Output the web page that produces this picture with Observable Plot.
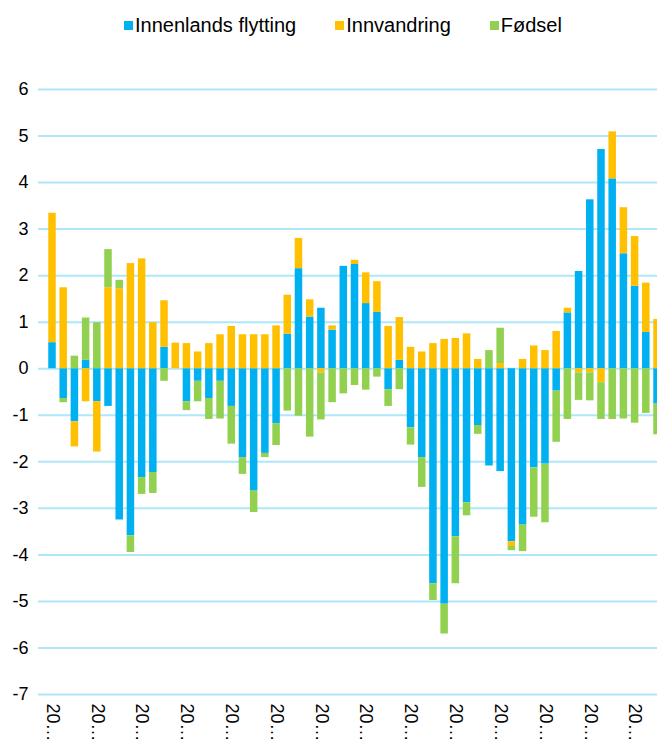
<!DOCTYPE html>
<html>
<head>
<meta charset="utf-8">
<script src="https://cdn.jsdelivr.net/npm/d3@7"></script>
<script src="https://cdn.jsdelivr.net/npm/@observablehq/plot@0.6"></script>
<style>
  html, body { margin: 0; padding: 0; background: #fff; overflow: hidden; }
  #wrap { width: 657px; height: 749px; overflow: hidden; position: relative; font-family: "Liberation Sans", Arial, sans-serif; }
  #legend { height: 50px; display: flex; align-items: center; padding-left: 124px; box-sizing: border-box; font-size: 20px; color: #000; }
  .item { display: flex; align-items: center; margin-right: 39px; }
  .sw { width: 9px; height: 9px; margin-right: 2px; }
  #chart svg { display: block; overflow: hidden; max-width: none !important; }
</style>
</head>
<body>
<div id="wrap">
  <div id="legend"></div>
  <div id="chart"></div>
</div>
<script>
const seriesNames = ["Innenlands flytting", "Innvandring", "Fødsel"];
const seriesColors = ["#00B0F0", "#FFC000", "#92D050"];

// Periods (quarters); the axis shows them truncated as "20…"
const years = ["2010","2011","2012","2013","2014","2015","2016","2017","2018","2019","2020","2021","2022","2023"];
const periods = [];
for (const y of years) for (const q of ["K1","K2","K3","K4"]) periods.push(y + q);
periods.length = 55;

const innenlands = [0.56,-0.64,-1.14,0.18,-0.71,-0.81,-3.25,-3.59,-2.34,-2.23,
  0.46,0,-0.71,-0.27,-0.64,-0.27,-0.81,-1.91,-2.63,-1.82,
  -1.18,0.74,2.15,1.11,1.3,0.83,2.2,2.24,1.4,1.21,
  -0.45,0.18,-1.27,-1.91,-4.62,-5.06,-3.61,-2.88,-1.22,-2.09,
  -2.21,-3.72,-3.36,-2.13,-2.05,-0.48,1.2,2.09,3.63,4.71,
  4.08,2.47,1.77,0.78,-0.76];
const innvandring = [2.78,1.74,-0.54,-0.71,-1.08,1.74,1.72,2.26,2.36,0.99,
  1.0,0.55,0.54,0.36,0.54,0.73,0.91,0.73,0.73,0.73,
  0.92,0.84,0.65,0.37,-0.09,0.09,0,0.09,0.66,0.66,
  0.91,0.92,0.46,0.36,0.54,0.63,0.65,0.75,0.2,0,
  0.11,-0.1,0.2,0.49,0.39,0.8,0.1,-0.09,-0.09,-0.3,
  1.01,0.99,1.07,1.06,1.06];
const fodsel = [0,-0.09,0.27,0.91,0.99,0.82,0.18,-0.36,-0.36,-0.45,
  -0.27,0,-0.19,-0.44,-0.45,-0.81,-0.81,-0.36,-0.46,-0.09,
  -0.47,-0.91,-1.02,-1.47,-1.01,-0.73,-0.54,-0.36,-0.46,-0.18,
  -0.36,-0.45,-0.37,-0.64,-0.36,-0.64,-1.01,-0.28,-0.19,0.39,
  0.76,-0.09,-0.57,-1.06,-1.26,-1.1,-1.09,-0.59,-0.6,-0.79,
  -1.09,-1.08,-1.17,-0.96,-0.66];
const yTicks = [-7,-6,-5,-4,-3,-2,-1,0,1,2,3,4,5,6];

const values = [innenlands, innvandring, fodsel];
const data = [];
periods.forEach((p, i) => {
  seriesNames.forEach((s, k) => data.push({period: p, series: s, value: values[k][i]}));
});

// legend
const legend = document.getElementById("legend");
seriesNames.forEach((s, k) => {
  const it = document.createElement("div");
  it.className = "item";
  it.innerHTML = `<span class="sw" style="background:${seriesColors[k]}"></span><span>${s}</span>`;
  legend.appendChild(it);
});

const chart = Plot.plot({
  width: 671,
  height: 699,
  marginLeft: 38,
  marginRight: 0,
  marginTop: 39,
  marginBottom: 55,
  style: {fontFamily: "'Liberation Sans', Arial, sans-serif", fontSize: "18px", color: "#000", background: "#fff"},
  x: {domain: periods, paddingInner: 0.33, paddingOuter: 0.914, round: false, axis: null, label: null},
  y: {domain: [-7, 6], axis: null, label: null},
  color: {domain: seriesNames, range: seriesColors},
  marks: [
    Plot.ruleY(yTicks, {stroke: "#ADE8F8", strokeWidth: 2}),
    Plot.barY(data, Plot.stackY({x: "period", y: "value", z: "series", fill: "series", order: seriesNames})),
    Plot.axisY(yTicks, {tickSize: 0, tickPadding: 10, tickFormat: d => String(d), fontSize: 18, label: null}),
    Plot.axisX(periods.filter((d, i) => i % 4 === 0), {tickSize: 0, tickPadding: 9, tickRotate: 90, tickFormat: d => d.slice(0, 2) + "…", fontSize: 18, label: null})
  ]
});
document.getElementById("chart").appendChild(chart);
</script>
</body>
</html>
